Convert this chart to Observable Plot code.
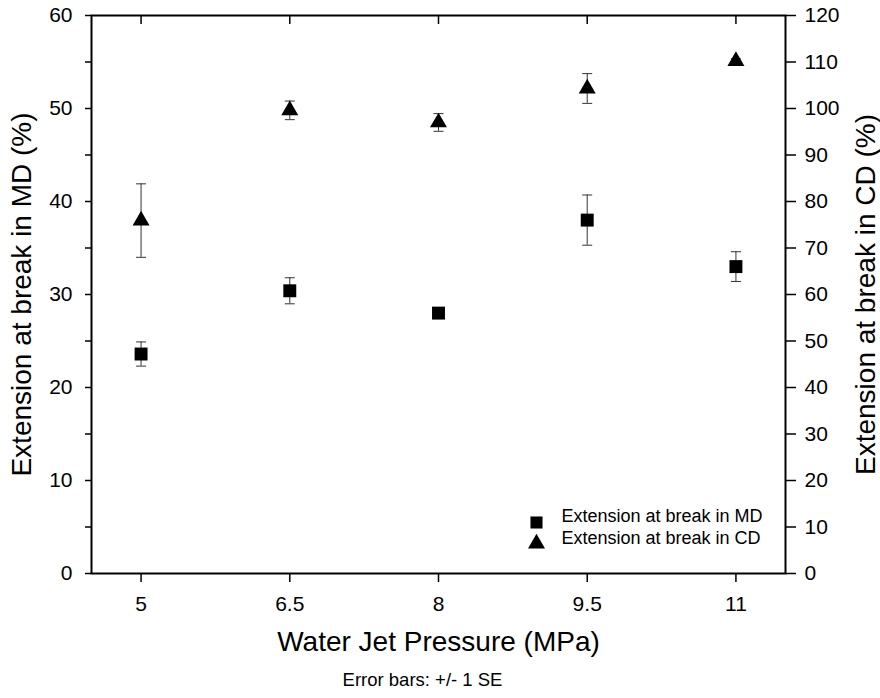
<!DOCTYPE html>
<html>
<head>
<meta charset="utf-8">
<script src="https://cdn.jsdelivr.net/npm/d3@7"></script>
<script src="https://cdn.jsdelivr.net/npm/@observablehq/plot@0.6"></script>
<style>
  body { margin: 0; background: #fff; font-family: "Liberation Sans", Arial, sans-serif; }
</style>
</head>
<body>
<div id="chart"></div>
<script>
const pressure = [5, 6.5, 8, 9.5, 11];
const mdValues = [23.6, 30.4, 28.0, 38.0, 33.0];
const mdSE = [1.3, 1.4, 0.4, 2.7, 1.6];
const cdValues = [75.9, 99.6, 97.0, 104.3, 110.2];
const cdSE = [7.9, 2.0, 1.9, 3.2, 0.5];
const xTicks = [5, 6.5, 8, 9.5, 11];
const leftTicks = d3.range(0, 61, 5);
const rightTicks = d3.range(0, 121, 10);
const legendLabels = ["Extension at break in MD", "Extension at break in CD"];

const W = 880, H = 698;
const mL = 91, mR = 95, mT = 15, mB = 125;
const plotH = H - mT - mB;

const md = pressure.map((p, i) => ({x: p, y: mdValues[i], lo: mdValues[i] - mdSE[i], hi: mdValues[i] + mdSE[i]}));
// CD is read on the right axis (0–120), mapped onto the left scale (0–60)
const cd = pressure.map((p, i) => ({x: p, y: cdValues[i] / 2, lo: (cdValues[i] - cdSE[i]) / 2, hi: (cdValues[i] + cdSE[i]) / 2}));

const cap = {draw(ctx) { ctx.moveTo(-5, 0); ctx.lineTo(5, 0); }};
const font = "Liberation Sans, Arial, sans-serif";

const errMarks = (data) => [
  Plot.ruleX(data, {x: "x", y1: "lo", y2: "hi", stroke: "#333", strokeWidth: 1}),
  Plot.dot(data, {x: "x", y: "lo", symbol: cap, stroke: "#333", strokeWidth: 1, fill: "none", r: 5}),
  Plot.dot(data, {x: "x", y: "hi", symbol: cap, stroke: "#333", strokeWidth: 1, fill: "none", r: 5})
];

const chart = Plot.plot({
  width: W, height: H,
  marginLeft: mL, marginRight: mR, marginTop: mT, marginBottom: mB,
  style: {fontFamily: font, color: "black", background: "white"},
  x: {domain: [4.5, 11.5]},
  y: {domain: [0, 60]},
  marks: [
    Plot.axisX({ticks: xTicks, tickFormat: d => String(d), tickSize: 9, tickPadding: 14, fontSize: 21, label: null, strokeWidth: 1.5}),
    Plot.tickX(xTicks, {x: d => d, insetBottom: plotH - 9, stroke: "black", strokeWidth: 1.5}),
    Plot.axisY({ticks: leftTicks, tickFormat: d => d % 10 === 0 ? String(d) : "", tickSize: 6, tickPadding: 13, fontSize: 21, label: null, strokeWidth: 1.5}),
    Plot.axisY({anchor: "right", ticks: rightTicks.map(d => d / 2), tickFormat: d => String(d * 2), tickSize: 10, tickPadding: 9, fontSize: 21, label: null, strokeWidth: 1.5}),
    Plot.frame({stroke: "black", strokeWidth: 2}),
    ...errMarks(md),
    ...errMarks(cd),
    Plot.dot(md, {x: "x", y: "y", symbol: "square", fill: "black", r: 7.3}),
    Plot.dot(cd, {x: "x", y: "y", symbol: "triangle", fill: "black", r: 6.3}),
    // legend
    Plot.dot([0], {frameAnchor: "bottom-right", dx: -249, dy: -51, symbol: "square", fill: "black", r: 6.8}),
    Plot.dot([0], {frameAnchor: "bottom-right", dx: -249, dy: -30, symbol: "triangle", fill: "black", r: 6.3}),
    Plot.text([legendLabels[0]], {frameAnchor: "bottom-right", dx: -224, dy: -52, textAnchor: "start", fontSize: 18, fill: "black"}),
    Plot.text([legendLabels[1]], {frameAnchor: "bottom-right", dx: -224, dy: -30, textAnchor: "start", fontSize: 18, fill: "black"}),
    // axis titles
    Plot.text(["Extension at break in MD (%)"], {frameAnchor: "left", dx: -69, rotate: -90, textAnchor: "middle", fontSize: 28, fill: "black"}),
    Plot.text(["Extension at break in CD (%)"], {frameAnchor: "right", dx: 81, rotate: -90, textAnchor: "middle", fontSize: 28, fill: "black"}),
    Plot.text(["Water Jet Pressure (MPa)"], {frameAnchor: "bottom", dy: 77, fontSize: 28, fill: "black"}),
    Plot.text(["Error bars: +/- 1 SE"], {frameAnchor: "bottom", dx: -16, dy: 112, fontSize: 18.5, fill: "black"})
  ]
});
document.getElementById("chart").appendChild(chart);
</script>
</body>
</html>
